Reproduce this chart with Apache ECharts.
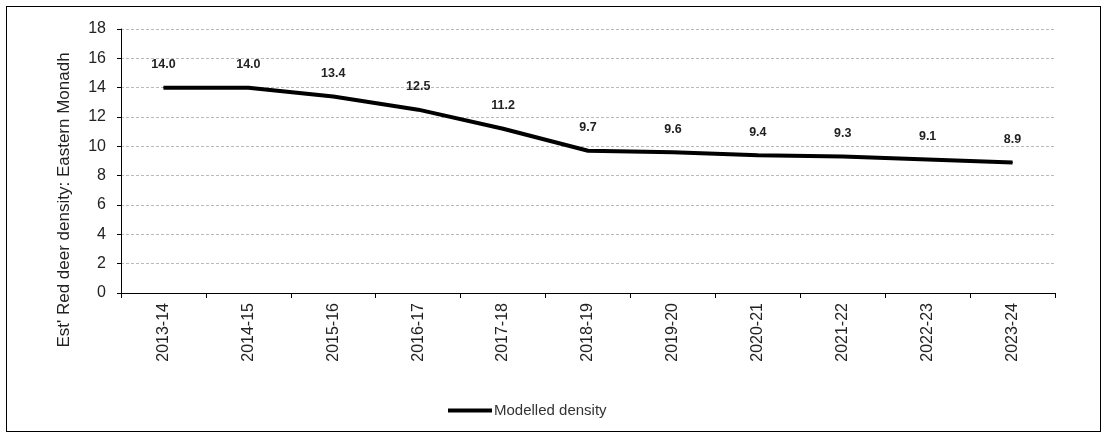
<!DOCTYPE html>
<html><head><meta charset="utf-8">
<script src="https://cdn.jsdelivr.net/npm/echarts@6/dist/echarts.min.js"></script>
<style>html,body{margin:0;padding:0;background:#fff}#c{width:1107px;height:434px}
#frame{position:absolute;left:6px;top:6px;width:1095px;height:426px;border:1px solid #000;box-sizing:border-box;pointer-events:none}</style>
</head><body><div id="c"></div><div id="frame"></div>
<script>
const categories = ['2013-14','2014-15','2015-16','2016-17','2017-18','2018-19','2019-20','2020-21','2021-22','2022-23','2023-24'];
const density = [14.0,14.0,13.4,12.5,11.2,9.7,9.6,9.4,9.3,9.1,8.9];
const seriesName = 'Modelled density';
const yAxisName = "Est' Red deer density: Eastern Monadh";

const chart = echarts.init(document.getElementById('c'));
chart.setOption({
  animation:false,
  textStyle:{fontFamily:'Liberation Sans, Arial, sans-serif'},
  grid:{left:121,top:29,width:934,height:264,containLabel:false},
  legend:{top:403,left:448,padding:0,itemWidth:44,itemHeight:4,itemGap:2,
    icon:'rect',
    textStyle:{fontSize:15,color:'#333',padding:[0,0,0,-3]},data:[seriesName]},
  graphic:[{type:'text',x:64,y:200,rotation:Math.PI/2,
    style:{text:yAxisName,fontSize:17,fill:'#222',fontFamily:'Liberation Sans, Arial, sans-serif',
      textAlign:'center',textVerticalAlign:'middle'}}],
  xAxis:{type:'category',data:categories,boundaryGap:true,
    axisLine:{lineStyle:{color:'#000',width:1}},
    axisTick:{show:true,length:5,lineStyle:{color:'#000'},alignWithLabel:false},
    axisLabel:{rotate:90,fontSize:16,color:'#222',margin:10}},
  yAxis:{type:'value',min:0,max:18,interval:2,
    axisLine:{show:true,lineStyle:{color:'#000',width:1}},
    axisTick:{show:true,length:4,lineStyle:{color:'#000'}},
    axisLabel:{fontSize:16,color:'#222',margin:15},
    splitLine:{lineStyle:{color:'#bbb',type:[3,2],width:1}}},
  series:[{name:seriesName,type:'line',data:density,showSymbol:true,symbol:'circle',symbolSize:1,
    lineStyle:{color:'#000',width:4},itemStyle:{color:'#000'},
    label:{show:true,position:'top',distance:16,fontSize:12.5,fontWeight:'bold',color:'#222',
      formatter:p=>p.value.toFixed(1)}}]
});
</script></body></html>
